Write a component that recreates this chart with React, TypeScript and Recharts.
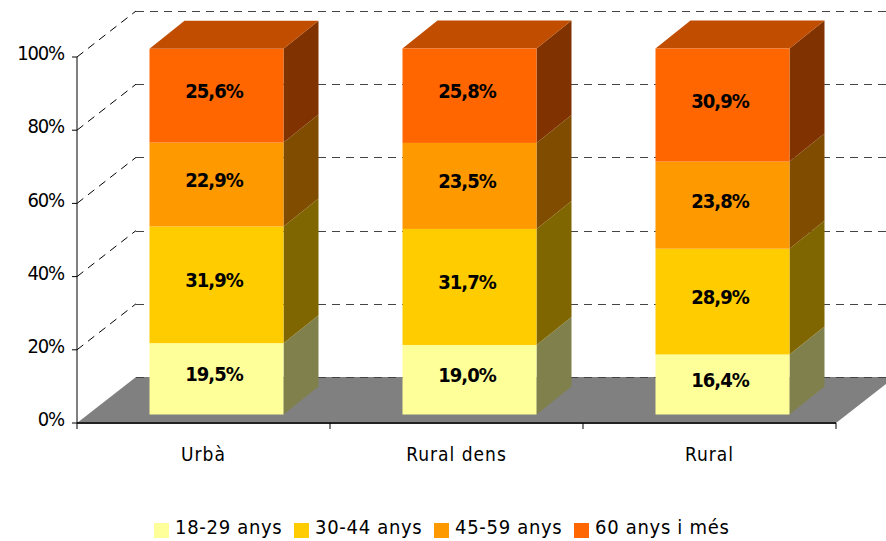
import React from "react";
import { BarChart, Bar, XAxis, YAxis, CartesianGrid, Legend, LabelList } from "recharts";

const categories = ["Urbà", "Rural dens", "Rural"];
const ages18to29 = [19.5, 19.0, 16.4];
const ages30to44 = [31.9, 31.7, 28.9];
const ages45to59 = [22.9, 23.5, 23.8];
const ages60plus = [25.6, 25.8, 30.9];
const yTicks = [0, 20, 40, 60, 80, 100];

const seriesNames = ["18-29 anys", "30-44 anys", "45-59 anys", "60 anys i més"];
const seriesValues = [ages18to29, ages30to44, ages45to59, ages60plus];
const frontColors = ["#FFFF99", "#FFCC00", "#FF9900", "#FF6600"];
const sideColors = ["#80804D", "#806600", "#804D00", "#803300"];
const topColor = "#C04D00";

const rows = categories.map((name, i) => {
  const row: Record<string, any> = { name };
  seriesNames.forEach((s, k) => (row[s] = seriesValues[k][i]));
  return row;
});

const FONT = "'DejaVu Sans Condensed', 'DejaVu Sans', sans-serif";
const WALL_DX = 59;
const WALL_DY = -46;
const BAR_SHIFT_X = 12.5;
const BAR_SHIFT_Y = -8.5;
const BAR_DX = 35;
const BAR_DY = -28;

const makeBarShape = (k: number) => (p: any) => {
  const x = p.x + BAR_SHIFT_X;
  const y = p.y + BAR_SHIFT_Y;
  const w = p.width;
  const h = p.height;
  const r = x + w;
  return (
    <g>
      <polygon points={`${r},${y} ${r + BAR_DX},${y + BAR_DY} ${r + BAR_DX},${y + h + BAR_DY} ${r},${y + h}`} fill={sideColors[k]} />
      {k === seriesNames.length - 1 && (
        <polygon points={`${x},${y} ${x + BAR_DX},${y + BAR_DY} ${r + BAR_DX},${y + BAR_DY} ${r},${y}`} fill={topColor} />
      )}
      <rect x={x} y={y} width={w} height={h} fill={frontColors[k]} />
    </g>
  );
};

const renderBarLabel = (p: any) => (
  <text
    x={p.x + p.width / 2 + BAR_SHIFT_X - 2.5}
    y={p.y + p.height / 2 + BAR_SHIFT_Y - 4.5}
    textAnchor="middle"
    dominantBaseline="central"
    fontFamily={FONT}
    fontWeight="bold"
    fontSize={20}
    letterSpacing={-1}
    fill="#000"
  >
    {`${Number(p.value).toFixed(1).replace(".", ",")}%`}
  </text>
);

const GridLine = (p: any) => {
  const { x1, x2, y1, index } = p;
  const y = Math.round(y1) + 0.5;
  const isFloor = index === 0;
  return (
    <g>
      {isFloor && (
        <polygon
          points={`${x1},${y1} ${x1 + WALL_DX},${y1 + WALL_DY} ${x2 + WALL_DX},${y1 + WALL_DY} ${x2},${y1}`}
          fill="#808080"
        />
      )}
      {!isFloor && (
        <line x1={x1} y1={y1} x2={x1 + WALL_DX} y2={y1 + WALL_DY} stroke="#000" strokeWidth={1} strokeDasharray="8 6" />
      )}
      <line x1={x1 + WALL_DX} y1={y + WALL_DY} x2={x2 + WALL_DX} y2={y + WALL_DY} stroke="#444" strokeWidth={1.2} strokeDasharray="8 6" />
    </g>
  );
};

const CategoryTick = (p: any) => {
  const { x, y, payload } = p;
  const half = payload.offset;
  return (
    <g>
      <line x1={x - half} y1={y} x2={x - half} y2={y + 6} stroke="#000" />
      {payload.index === categories.length - 1 && <line x1={x + half} y1={y} x2={x + half} y2={y + 6} stroke="#000" />}
      <text x={x} y={y + 31} textAnchor="middle" dominantBaseline="central" fontFamily={FONT} fontSize={19} letterSpacing={1} fill="#000">
        {payload.value}
      </text>
    </g>
  );
};

const LegendContent = (p: any) => (
  <div style={{ display: "flex" }}>
    {p.payload.map((e: any) => (
      <div key={e.value} style={{ width: 140, display: "flex", alignItems: "center" }}>
        <span style={{ width: 15, height: 15, background: e.color, marginRight: 6, flex: "none", position: "relative", top: 3 }} />
        <span style={{ fontFamily: FONT, fontSize: 20, letterSpacing: 0.7, color: "#000", whiteSpace: "nowrap", lineHeight: "20px" }}>{e.value}</span>
      </div>
    ))}
  </div>
);

export default function App() {
  return (
    <div style={{ position: "absolute", left: 0, top: 0, width: 886, height: 541, background: "#fff" }}>
      <BarChart
        width={886}
        height={541}
        data={rows}
        margin={{ top: 57, right: 50, bottom: 0, left: 0 }}
        barSize={134}
      >
        <CartesianGrid vertical={false} horizontal={(p: any) => <GridLine key={p.key} {...p} />} />
        <XAxis
          dataKey="name"
          height={98}
          axisLine={{ stroke: "#222", strokeWidth: 2 }}
          tickLine={false}
          tickSize={0}
          tickMargin={0}
          interval={0}
          tick={(p: any) => <CategoryTick {...p} />}
        />
        <YAxis
          width={77}
          domain={[0, 100]}
          ticks={yTicks}
          interval={0}
          tickFormatter={(v: number) => `${v}%`}
          axisLine={{ stroke: "#000" }}
          tickLine={{ stroke: "#000" }}
          tickSize={5}
          tickMargin={8}
          tick={{ fontFamily: FONT, fontSize: 20, letterSpacing: -1.2, fill: "#000", dy: -4 }}
        />
        <Legend
          content={(p: any) => <LegendContent {...p} />}
          wrapperStyle={{ left: 154, top: 517, width: 600, height: 20 }}
        />
        {seriesNames.map((s, k) => (
          <Bar key={s} dataKey={s} name={s} stackId="a" fill={frontColors[k]} isAnimationActive={false} shape={makeBarShape(k)}>
            <LabelList dataKey={s} content={renderBarLabel} />
          </Bar>
        ))}
      </BarChart>
    </div>
  );
}
